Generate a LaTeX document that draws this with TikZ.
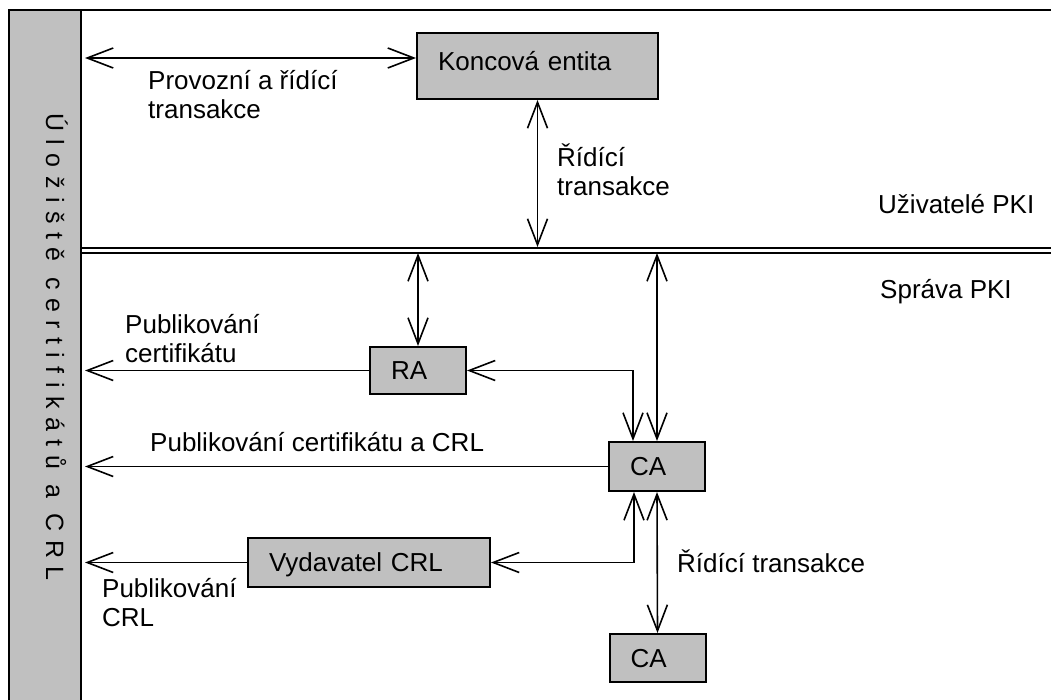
\documentclass[tikz,border=0pt]{standalone}
\usepackage{fontspec}
\setmainfont{Liberation Sans}
\usetikzlibrary{arrows.meta,calc}
\definecolor{boxgray}{HTML}{C0C0C0}

\begin{document}
\begin{tikzpicture}[x=1pt,y=-1pt,
  >={Straight Barb[length=26pt,width=20pt]},
  link/.style={line width=1.6pt},
  frame/.style={line width=2pt},
  lbl/.style={inner sep=0pt, align=left, font=\fontsize{26}{29}\selectfont},
  box/.style={draw, fill=boxgray, line width=2pt, inner xsep=21pt, inner ysep=0pt,
    align=left, text height=18.6pt, text depth=0pt,
    font=\fontsize{26}{29}\selectfont},
]
\useasboundingbox (0,0) rectangle (1051,699);

% certificate and CRL store column, outer frame and the two-line divider
\draw[frame, fill=boxgray] (9,10) rectangle (81,705);
\draw[frame] (9,10) -- (1055,10);
\draw[frame] (81,247.5) -- (1055,247.5);
\draw[frame] (81,253) -- (1055,253);
\node[rotate=-90, anchor=base west, inner sep=0pt,
  font=\fontsize{25}{25}\selectfont\addfontfeature{LetterSpace=34}] (store) at (46,113)
  {Úložiště certifikátů a CRL};

\coordinate (busTop) at (81,247);
\coordinate (busBot) at (81,253);
\coordinate (col) at (85,0);

% boxes
\node[box, text width=199pt, minimum height=66pt, text depth=10.6pt] (ke) at (537.5,66) {Koncová entita};
\node[box, text width=54pt, minimum height=47pt] (ra) at (418,370.5) {RA};
\node[box, text width=54pt, minimum height=49pt] (ca) at (657,466.5) {CA};
\node[box, text width=54pt, minimum height=48pt] (ca2) at (657.5,658) {CA};
\node[box, text width=200pt, minimum height=49pt] (vy) at (369,562.5) {Vydavatel CRL};

% connectors
\coordinate (keIn) at (85,58);
\draw[link,<->] (keIn) -- (keIn -| ke.west);
\draw[link,<->] (ke.south) -- (ke.south |- busTop);
\draw[link,<->] (ra.north |- busBot) -- (ra.north);
\draw[link,<->] (ca.north |- busBot) -- (ca.north);
\draw[link,<->] (ra.east) -| ($(ca.north)+(-24,0)$);
\draw[link,->] (ra.west) -- (ra.west -| col);
\draw[link,->] (ca.west) -- (ca.west -| col);
\draw[link,->] (vy.west) -- (vy.west -| col);
\draw[link,<->] (vy.east) -| ($(ca.south)+(-23,0)$);
\draw[link,<->] (ca.south) -- (ca2.north);

% labels (two-line labels are placed by the baseline of their last line)
\node[lbl, anchor=base west] (t1) at (148,118) {Provozní a řídící\\transakce};
\node[lbl, anchor=base west] (t2) at (557,195) {Řídící\\transakce};
\node[lbl, anchor=base west] (t3) at (878,213) {Uživatelé PKI};
\node[lbl, anchor=base west] (t4) at (880,298) {Správa PKI};
\node[lbl, anchor=base west] (t5) at (125,362) {Publikování\\certifikátu};
\node[lbl, anchor=base west] (t6) at (150,451) {Publikování certifikátu a CRL};
\node[lbl, anchor=base west] (t7) at (102,626) {Publikování\\CRL};
\node[lbl, anchor=base west] (t8) at (677,572) {Řídící transakce};
\end{tikzpicture}
\end{document}
